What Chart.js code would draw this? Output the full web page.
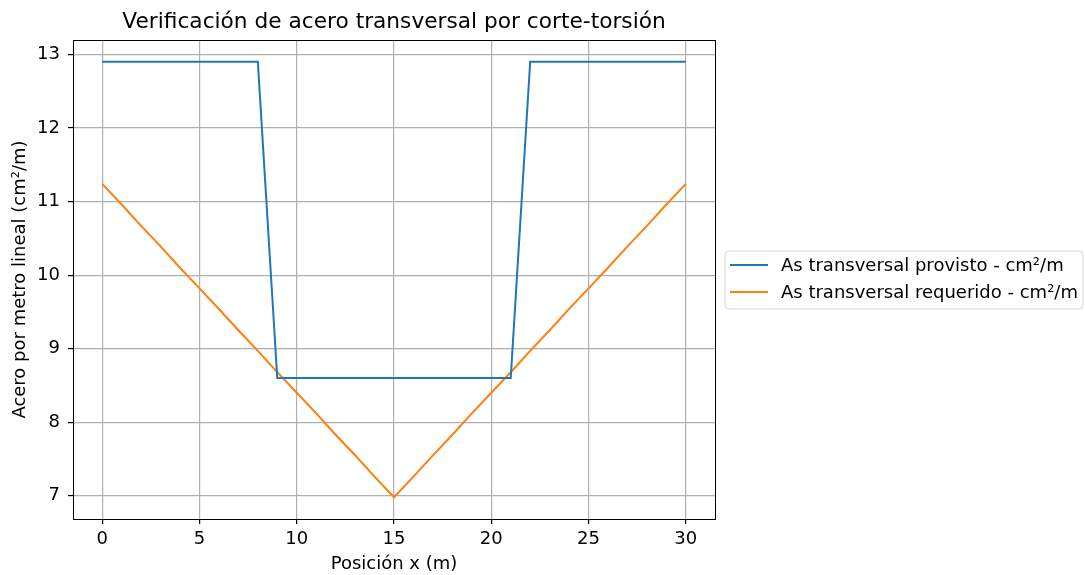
<!DOCTYPE html>
<html>
<head>
<meta charset="utf-8">
<script src="https://cdn.jsdelivr.net/npm/chart.js@4/dist/chart.umd.min.js"></script>
<style>
  body { margin: 0; background: #fff; }
  #wrap { width: 1085px; height: 575px; }
</style>
</head>
<body>
<div id="wrap"><canvas id="chart" width="1085" height="575"></canvas></div>
<script>
// datos
const posicion = [0, 1, 2, 3, 4, 5, 6, 7, 8, 9, 10, 11, 12, 13, 14, 15, 16, 17, 18, 19, 20, 21, 22, 23, 24, 25, 26, 27, 28, 29, 30]
const provisto = [12.9, 12.9, 12.9, 12.9, 12.9, 12.9, 12.9, 12.9, 12.9, 8.6, 8.6, 8.6, 8.6, 8.6, 8.6, 8.6, 8.6, 8.6, 8.6, 8.6, 8.6, 8.6, 12.9, 12.9, 12.9, 12.9, 12.9, 12.9, 12.9, 12.9, 12.9]
const requerido = [11.24, 10.96, 10.67, 10.39, 10.10, 9.82, 9.54, 9.25, 8.97, 8.68, 8.40, 8.12, 7.83, 7.55, 7.26, 6.98, 7.26, 7.55, 7.83, 8.12, 8.40, 8.68, 8.97, 9.25, 9.54, 9.82, 10.10, 10.39, 10.67, 10.96, 11.24]
const xTicks = [0, 5, 10, 15, 20, 25, 30]
const yTicks = [7, 8, 9, 10, 11, 12, 13]
const etiquetas = ['As transversal provisto - cm²/m', 'As transversal requerido - cm²/m']

const fuente = "'DejaVu Sans', sans-serif"
const azul = '#1f77b4'
const naranja = '#ff7f0e'

// marco de los ejes y leyenda estilo matplotlib
const marcoYLeyenda = {
    id: 'marcoYLeyenda',
    afterDatasetsDraw(chart) {
        const ctx = chart.ctx
        const a = chart.chartArea
        ctx.save()
        ctx.strokeStyle = '#000'
        ctx.lineWidth = 1
        ctx.strokeRect(Math.round(a.left) + 0.5, Math.round(a.top) + 0.5, Math.round(a.right - a.left), Math.round(a.bottom - a.top))

        // leyenda
        const bx = 725, by = 251, bw = 358, bh = 58, r = 4
        ctx.beginPath()
        ctx.moveTo(bx + r, by)
        ctx.arcTo(bx + bw, by, bx + bw, by + bh, r)
        ctx.arcTo(bx + bw, by + bh, bx, by + bh, r)
        ctx.arcTo(bx, by + bh, bx, by, r)
        ctx.arcTo(bx, by, bx + bw, by, r)
        ctx.closePath()
        ctx.fillStyle = 'rgba(255,255,255,0.8)'
        ctx.fill()
        ctx.strokeStyle = '#d6d6d6'
        ctx.stroke()
        const colores = [azul, naranja]
        ctx.font = '18px ' + fuente
        ctx.textBaseline = 'middle'
        ctx.textAlign = 'left'
        etiquetas.forEach((t, i) => {
            const y = 265 + i * 27
            ctx.strokeStyle = colores[i]
            ctx.lineWidth = 2
            ctx.beginPath()
            ctx.moveTo(730, y)
            ctx.lineTo(768, y)
            ctx.stroke()
            ctx.fillStyle = '#000'
            ctx.fillText(t, 781, y + 1)
        })
        ctx.restore()
    }
}

new Chart(document.getElementById('chart'), {
    type: 'line',
    data: {
        datasets: [
            {
                label: etiquetas[0],
                data: posicion.map((x, i) => ({ x: x, y: provisto[i] })),
                borderColor: azul,
                backgroundColor: azul,
                borderWidth: 2,
                pointRadius: 0,
                tension: 0,
                fill: false
            },
            {
                label: etiquetas[1],
                data: posicion.map((x, i) => ({ x: x, y: requerido[i] })),
                borderColor: naranja,
                backgroundColor: naranja,
                borderWidth: 2,
                pointRadius: 0,
                tension: 0,
                fill: false
            }
        ]
    },
    options: {
        responsive: false,
        animation: false,
        layout: { padding: { left: 0, right: 370, top: 0, bottom: 0 } },
        plugins: {
            legend: { display: false },
            tooltip: { enabled: false },
            title: {
                display: true,
                fullSize: false,
                text: 'Verificación de acero transversal por corte-torsión',
                color: '#000',
                font: { family: fuente, size: 21.7, weight: 'normal' },
                padding: { top: 9, bottom: 5 }
            }
        },
        scales: {
            x: {
                type: 'linear',
                min: -1.5,
                max: 31.5,
                afterBuildTicks: s => { s.ticks = xTicks.map(v => ({ value: v })) },
                afterFit: s => { s.height = 56 },
                grid: { color: '#b0b0b0', lineWidth: 1.2, tickLength: 5, tickColor: '#000', drawTicks: true },
                border: { display: true, color: '#000' },
                ticks: { color: '#000', padding: 5, font: { family: fuente, size: 18 }, maxRotation: 0 },
                title: {
                    display: true,
                    text: 'Posición x (m)',
                    color: '#000',
                    font: { family: fuente, size: 18 },
                    padding: { top: 0, bottom: 0 }
                }
            },
            y: {
                type: 'linear',
                min: 6.684,
                max: 13.196,
                afterBuildTicks: s => { s.ticks = yTicks.map(v => ({ value: v })) },
                afterFit: s => { s.width = 73 },
                grid: { color: '#b0b0b0', lineWidth: 1.2, tickLength: 5, tickColor: '#000', drawTicks: true },
                border: { display: true, color: '#000' },
                ticks: { color: '#000', padding: 8, font: { family: fuente, size: 18 } },
                title: {
                    display: true,
                    text: 'Acero por metro lineal (cm²/m)',
                    color: '#000',
                    font: { family: fuente, size: 18 },
                    padding: { top: 10, bottom: 0 }
                }
            }
        }
    },
    plugins: [marcoYLeyenda]
})
</script>
</body>
</html>
